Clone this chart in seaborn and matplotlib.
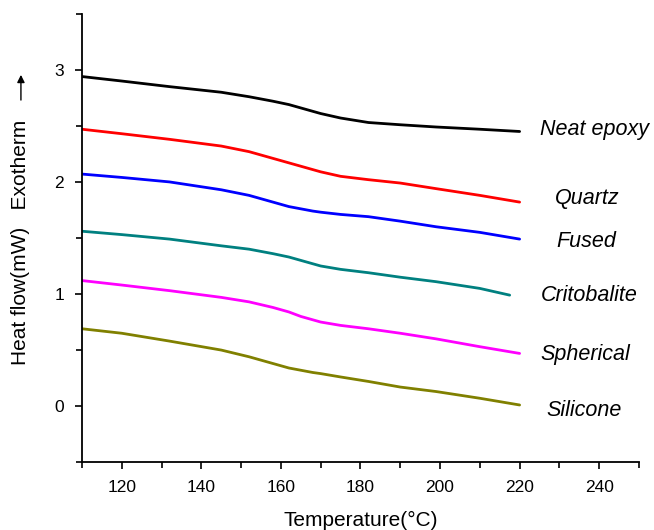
import numpy as np
import pandas as pd
import matplotlib
matplotlib.use('Agg')
import matplotlib.pyplot as plt
import seaborn as sns
from matplotlib.ticker import MultipleLocator

# Data
temperature = [110, 120, 132, 145, 152, 158, 162, 165, 168, 170, 175, 182, 190, 199, 210, 220]
temperature_crit = [110, 120, 132, 145, 152, 158, 162, 165, 168, 170, 175, 182, 190, 199, 210, 217.5]

neat_epoxy = [2.94, 2.90, 2.85, 2.80, 2.76, 2.72, 2.69, 2.66, 2.63, 2.61, 2.57, 2.53, 2.51, 2.49, 2.47, 2.45]
quartz = [2.47, 2.43, 2.38, 2.32, 2.27, 2.21, 2.17, 2.14, 2.11, 2.09, 2.05, 2.02, 1.99, 1.94, 1.88, 1.82]
fused = [2.07, 2.04, 2.00, 1.93, 1.88, 1.82, 1.78, 1.76, 1.74, 1.73, 1.71, 1.69, 1.65, 1.60, 1.55, 1.49]
critobalite = [1.56, 1.53, 1.49, 1.43, 1.40, 1.36, 1.33, 1.30, 1.27, 1.25, 1.22, 1.19, 1.15, 1.11, 1.05, 0.99]
spherical = [1.12, 1.08, 1.03, 0.97, 0.93, 0.88, 0.84, 0.80, 0.77, 0.75, 0.72, 0.69, 0.65, 0.60, 0.53, 0.47]
silicone = [0.69, 0.65, 0.58, 0.50, 0.44, 0.38, 0.34, 0.32, 0.30, 0.29, 0.26, 0.22, 0.17, 0.13, 0.07, 0.01]

samples = ['Neat epoxy', 'Quartz', 'Fused', 'Critobalite', 'Spherical', 'Silicone']
colors = ['#000000', '#ff0000', '#0000ff', '#008080', '#ff00ff', '#808000']

# Build long-form table
frames = []
for name, vals in zip(samples, [neat_epoxy, quartz, fused, critobalite, spherical, silicone]):
    temps = temperature_crit if name == 'Critobalite' else temperature
    frames.append(pd.DataFrame({'Temperature': temps, 'Heat flow': vals, 'Sample': name}))
df = pd.concat(frames, ignore_index=True)

sns.set_style('ticks')
plt.rcParams['font.family'] = ['Liberation Sans', 'DejaVu Sans']
plt.rcParams['text.color'] = 'black'
plt.rcParams['axes.labelcolor'] = 'black'
plt.rcParams['xtick.color'] = 'black'
plt.rcParams['ytick.color'] = 'black'

fig = plt.figure(figsize=(6.54, 5.30), dpi=100)
ax = fig.add_axes([0.1254, 0.128, 0.8516, 0.846])

sns.lineplot(data=df, x='Temperature', y='Heat flow', hue='Sample',
             palette=colors, linewidth=2.0, legend=False, ax=ax)

ax.set_xlim(110, 250)
ax.set_ylim(-0.5, 3.5)
ax.xaxis.set_major_locator(MultipleLocator(20))
ax.xaxis.set_minor_locator(MultipleLocator(10))
ax.yaxis.set_major_locator(MultipleLocator(1))
ax.yaxis.set_minor_locator(MultipleLocator(0.5))
ax.set_xticks([120, 140, 160, 180, 200, 220, 240])
ax.tick_params(which='both', direction='out', width=1.2, length=5, pad=8,
               labelsize=12.5, color='black', labelcolor='black')
ax.tick_params(which='minor', length=4)

for side in ['top', 'right']:
    ax.spines[side].set_visible(False)
for side in ['left', 'bottom']:
    ax.spines[side].set_linewidth(1.3)
    ax.spines[side].set_color('black')

ax.set_xlabel('Temperature(\u00b0C)', fontsize=15, labelpad=11)
ax.set_ylabel('')

# Y label with the exotherm arrow
fig.text(0.032, 0.5425, 'Heat flow(mW)   Exotherm', rotation=90,
         ha='center', va='center', fontsize=15)
ax.annotate('', xy=(0.032, 0.864), xytext=(0.032, 0.806),
            xycoords='figure fraction', textcoords='figure fraction',
            arrowprops=dict(arrowstyle='-|>', color='black', lw=1.0,
                            mutation_scale=11))

# Curve labels
label_x = [225.2, 229.0, 229.2, 225.4, 225.2, 226.7]
label_y = [2.47, 1.85, 1.47, 0.99, 0.46, -0.04]
for name, lx, ly in zip(samples, label_x, label_y):
    ax.text(lx, ly, name, style='italic', fontsize=15.5, ha='left', va='center')

fig.savefig('out.png', dpi=100)
